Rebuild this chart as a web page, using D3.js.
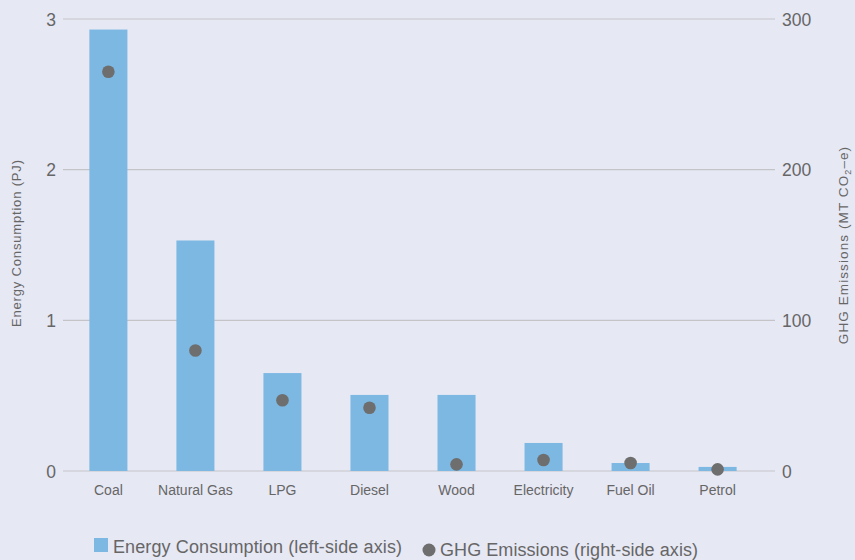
<!DOCTYPE html>
<html><head><meta charset="utf-8">
<script src="https://cdn.jsdelivr.net/npm/d3@7"></script>
<style>body{margin:0;background:#e6e8f4;}svg{display:block;font-family:"Helvetica Neue",Arial,"Liberation Sans",sans-serif;}</style>
</head><body><svg id="c" width="855" height="560"></svg>
<script>
const categories = ["Coal","Natural Gas","LPG","Diesel","Wood","Electricity","Fuel Oil","Petrol"];
const energy = [2.93,1.53,0.65,0.505,0.505,0.186,0.053,0.027];
const ghg = [265,80,47,42,4.4,7.3,5.3,1.1];
const leftTicks = [0,1,2,3];
const rightTicks = [0,100,200,300];

const svg = d3.select("#c");
svg.append("rect").attr("width",855).attr("height",560).attr("fill","#e6e8f4");
const x = d3.scaleBand().domain(categories).range([65,761]).paddingInner(0.563).paddingOuter(0.28);
const yL = d3.scaleLinear().domain([0,3]).range([471,19]);
const yR = d3.scaleLinear().domain([0,300]).range([471,19]);
const txt = "#666";

// gridlines
svg.append("g").selectAll("line").data(leftTicks).join("line")
  .attr("x1",63).attr("x2",775).attr("y1",d=>yL(d)).attr("y2",d=>yL(d))
  .attr("stroke","#c4c4c8").attr("stroke-width",1.2);

// left axis labels
const la = svg.append("g").attr("transform","translate(56,0)").call(d3.axisLeft(yL).tickValues(leftTicks).tickFormat(d3.format("d")).tickSize(0).tickPadding(0));
la.select(".domain").remove();
la.selectAll("text").attr("font-size",17.5).attr("fill",txt).attr("font-family","inherit").attr("dy","0.35em");

const ra = svg.append("g").attr("transform","translate(782,0)").call(d3.axisRight(yR).tickValues(rightTicks).tickFormat(d3.format("d")).tickSize(0).tickPadding(0));
ra.select(".domain").remove();
ra.selectAll("text").attr("font-size",17.5).attr("fill",txt).attr("font-family","inherit").attr("dy","0.35em");

// bars
svg.append("g").selectAll("rect").data(categories).join("rect")
  .attr("x",d=>x(d)).attr("width",x.bandwidth())
  .attr("y",(d,i)=>yL(energy[i])).attr("height",(d,i)=>yL(0)-yL(energy[i]))
  .attr("fill","#7db8e3");

// dots
svg.append("g").selectAll("circle").data(categories).join("circle")
  .attr("cx",d=>x(d)+x.bandwidth()/2).attr("cy",(d,i)=>yR(ghg[i])).attr("r",6.3)
  .attr("fill","#6e6e6e");

// x labels
const xa = svg.append("g").attr("transform","translate(0,471)").call(d3.axisBottom(x).tickSize(0).tickPadding(14));
xa.select(".domain").remove();
xa.selectAll("text").attr("font-size",14).attr("fill",txt).attr("font-family","inherit");

// axis titles
svg.append("text").attr("transform","translate(21,243.5) rotate(-90)").attr("text-anchor","middle")
  .attr("font-size",13).attr("fill",txt).attr("textLength",167).attr("lengthAdjust","spacing").text("Energy Consumption (PJ)");
const rt = svg.append("text").attr("transform","translate(848,245) rotate(-90)").attr("text-anchor","middle")
  .attr("font-size",13.5).attr("letter-spacing",1.1).attr("fill",txt);
rt.append("tspan").text("GHG Emissions (MT CO");
rt.append("tspan").attr("font-size",9).attr("dy",3).text("2");
rt.append("tspan").attr("dy",-3).text("–e)");

// legend
svg.append("rect").attr("x",94).attr("y",538).attr("width",14).attr("height",14).attr("fill","#7db8e3");
svg.append("text").attr("x",113).attr("y",553).attr("font-size",18).attr("fill",txt).attr("textLength",289).attr("lengthAdjust","spacing").text("Energy Consumption (left-side axis)");
svg.append("circle").attr("cx",429).attr("cy",550).attr("r",6.5).attr("fill","#6e6e6e");
svg.append("text").attr("x",440).attr("y",556).attr("font-size",18).attr("fill",txt).attr("textLength",258).attr("lengthAdjust","spacing").text("GHG Emissions (right-side axis)");
</script></body></html>
